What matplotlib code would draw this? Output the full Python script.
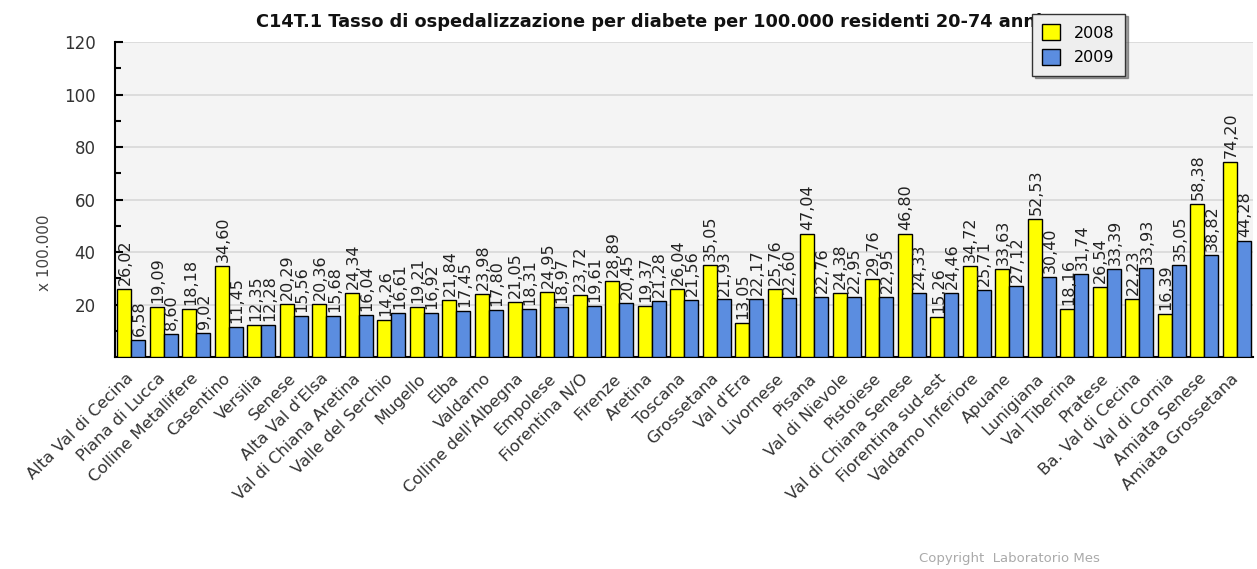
import matplotlib
matplotlib.use('Agg')
import matplotlib.pyplot as plt
import matplotlib.transforms as mtrans
import numpy as np

# Dati: tasso per 100.000 residenti 20-74 anni
zone = ["Alta Val di Cecina", "Piana di Lucca", "Colline Metallifere", "Casentino",
        "Versilia", "Senese", "Alta Val d'Elsa", "Val di Chiana Aretina",
        "Valle del Serchio", "Mugello", "Elba", "Valdarno", "Colline dell'Albegna",
        "Empolese", "Fiorentina N/O", "Firenze", "Aretina", "Toscana", "Grossetana",
        "Val d'Era", "Livornese", "Pisana", "Val di Nievole", "Pistoiese",
        "Val di Chiana Senese", "Fiorentina sud-est", "Valdarno Inferiore", "Apuane",
        "Lunigiana", "Val Tiberina", "Pratese", "Ba. Val di Cecina", "Val di Cornia",
        "Amiata Senese", "Amiata Grossetana"]
val_2008 = [26.02, 19.09, 18.18, 34.60, 12.35, 20.29, 20.36, 24.34, 14.26, 19.21,
            21.84, 23.98, 21.05, 24.95, 23.72, 28.89, 19.37, 26.04, 35.05, 13.05,
            25.76, 47.04, 24.38, 29.76, 46.80, 15.26, 34.72, 33.63, 52.53, 18.16,
            26.54, 22.23, 16.39, 58.38, 74.20]
val_2009 = [6.58, 8.60, 9.02, 11.45, 12.28, 15.56, 15.68, 16.04, 16.61, 16.92,
            17.45, 17.80, 18.31, 18.97, 19.61, 20.45, 21.28, 21.56, 21.93, 22.17,
            22.60, 22.76, 22.95, 22.95, 24.33, 24.46, 25.71, 27.12, 30.40, 31.74,
            33.39, 33.93, 35.05, 38.82, 44.28]
anni = ["2008", "2009"]
yticks = [20, 40, 60, 80, 100, 120]

fig = plt.figure(figsize=(12.57, 5.69), dpi=100)
ax = fig.add_axes([0.0915, 0.3726, 0.9055, 0.5534])
ax.set_facecolor('#f4f4f4')

x = np.arange(len(zone))
w = 0.43
b1 = ax.bar(x - w / 2, val_2008, w, color='#ffff00', edgecolor='black', linewidth=1, label=anni[0], zorder=3)
b2 = ax.bar(x + w / 2, val_2009, w, color='#5b8de0', edgecolor='black', linewidth=1, label=anni[1], zorder=3)

def fmt(v):
    return f"{v:.2f}".replace('.', ',')

for bars, vals in ((b1, val_2008), (b2, val_2009)):
    for r, v in zip(bars, vals):
        ax.text(r.get_x() + r.get_width() / 2 + 0.03, v + 1.5, fmt(v), rotation=90,
                ha='center', va='bottom', fontsize=11.5, color='#222222', zorder=4)

ax.set_xlim(-0.5, len(zone) - 0.5)
ax.set_ylim(0, 120)
ax.set_yticks(yticks)
ax.set_yticklabels([str(t) for t in yticks], fontsize=12, color='#333333')
ax.set_yticks(np.arange(10, 121, 10), minor=True)
ax.tick_params(axis='y', which='major', length=6, width=1.5, direction='in', pad=14)
ax.tick_params(axis='y', which='minor', length=4, width=1.5, direction='in')
ax.yaxis.grid(True, color='#d8d8d8', linewidth=1.2, zorder=0)

ax.set_xticks(x)
ax.set_xticklabels(zone, rotation=45, ha='right', rotation_mode='anchor', fontsize=11.8, color='#333333')
ax.tick_params(axis='x', length=0, pad=10)
shift = mtrans.ScaledTranslation(-6 / 100, 0, fig.dpi_scale_trans)
for lab in ax.get_xticklabels():
    lab.set_transform(lab.get_transform() + shift)

for s in ['top', 'right']:
    ax.spines[s].set_visible(False)
ax.spines['left'].set_linewidth(1.5)
ax.spines['bottom'].set_linewidth(1.5)

ax.set_ylabel('x 100.000', fontsize=11, color='#444444')
ax.yaxis.set_label_coords(-0.055, 0.33)

fig.text(0.516, 0.961, 'C14T.1 Tasso di ospedalizzazione per diabete per 100.000 residenti 20-74 anni',
         ha='center', va='center', fontsize=12.8, fontweight='bold', color='#111111')

leg = fig.legend(loc='upper left', bbox_to_anchor=(0.821, 0.976), borderaxespad=0, fontsize=11.5,
                 frameon=True, fancybox=False, shadow=True, handlelength=1.1, handleheight=1.2,
                 borderpad=0.65, labelspacing=0.5, handletextpad=0.9)
leg.get_frame().set_edgecolor('#333333')
leg.get_frame().set_facecolor('#eeeeee')
leg.set_zorder(10)

fig.text(0.875, 0.012, 'Copyright  Laboratorio Mes', ha='right', fontsize=9.5, color='#aaaaaa')

fig.savefig('out.png', dpi=100, facecolor='white')
